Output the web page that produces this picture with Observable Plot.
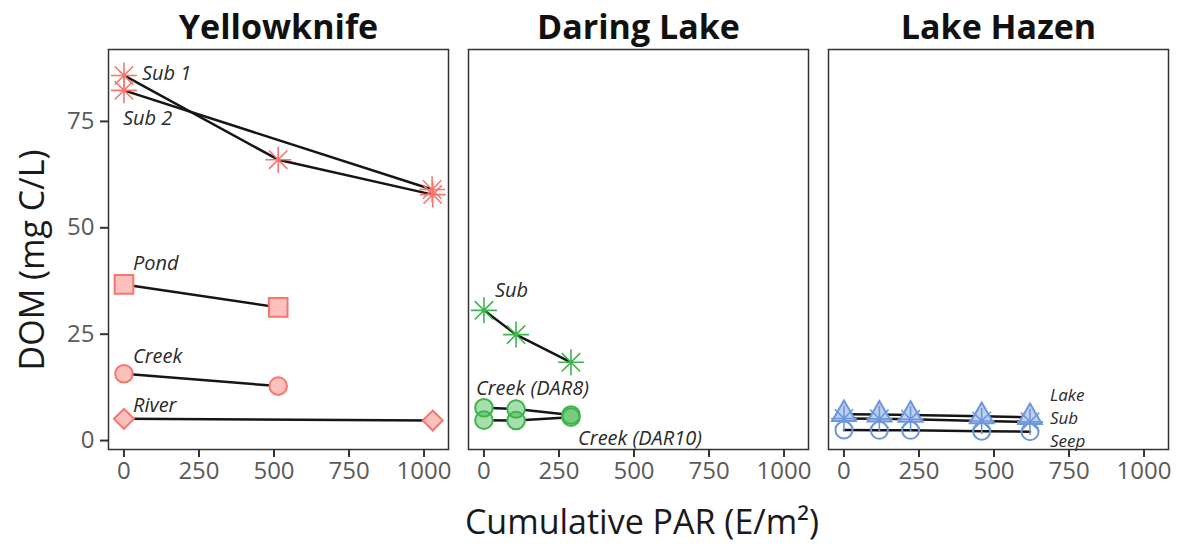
<!DOCTYPE html>
<html>
<head>
<meta charset="utf-8">
<script src="https://cdn.jsdelivr.net/npm/d3@7"></script>
<script src="https://cdn.jsdelivr.net/npm/@observablehq/plot@0.6"></script>
<style>
html, body { margin: 0; padding: 0; background: #fff; }
#chart { width: 1180px; height: 554px; }
g[aria-label$="tick"] { stroke-width: 2px; }
</style>
</head>
<body>
<div id="chart"></div>
<script>
// ---------- data ----------
const sites = ["Yellowknife", "Daring Lake", "Lake Hazen"];
const xTicks = [0, 250, 500, 750, 1000];
const yTicks = [0, 25, 50, 75];

const ykSub1PAR = [0, 514, 1029];
const ykSub1DOM = [85.8, 66.0, 57.8];
const ykSub2PAR = [0, 1027];
const ykSub2DOM = [82.3, 59.0];
const ykPondPAR = [0, 514];
const ykPondDOM = [36.7, 31.3];
const ykCreekPAR = [0, 514];
const ykCreekDOM = [15.7, 12.8];
const ykRiverPAR = [0, 1029];
const ykRiverDOM = [5.1, 4.7];

const dlSubPAR = [0, 107, 290];
const dlSubDOM = [30.6, 24.9, 18.4];
const dlDar8PAR = [0, 107, 290];
const dlDar8DOM = [7.7, 7.4, 6.0];
const dlDar10PAR = [0, 107, 290];
const dlDar10DOM = [4.8, 4.7, 5.5];

const lhPAR = [0, 118, 222, 459, 620];
const lhLakeDOM = [6.2, 6.1, 6.0, 5.7, 5.5];
const lhSubDOM = [5.2, 5.1, 5.0, 4.6, 4.4];
const lhSeepDOM = [2.5, 2.4, 2.4, 2.2, 2.1];

const series = [
  {site: "Yellowknife", name: "Sub 1", type: "sub", par: ykSub1PAR, dom: ykSub1DOM},
  {site: "Yellowknife", name: "Sub 2", type: "sub", par: ykSub2PAR, dom: ykSub2DOM},
  {site: "Yellowknife", name: "Pond", type: "pond", par: ykPondPAR, dom: ykPondDOM},
  {site: "Yellowknife", name: "Creek", type: "creek", par: ykCreekPAR, dom: ykCreekDOM},
  {site: "Yellowknife", name: "River", type: "river", par: ykRiverPAR, dom: ykRiverDOM},
  {site: "Daring Lake", name: "Sub", type: "sub", par: dlSubPAR, dom: dlSubDOM},
  {site: "Daring Lake", name: "Creek (DAR8)", type: "creek", par: dlDar8PAR, dom: dlDar8DOM},
  {site: "Daring Lake", name: "Creek (DAR10)", type: "creek", par: dlDar10PAR, dom: dlDar10DOM},
  {site: "Lake Hazen", name: "Lake", type: "lake", par: lhPAR, dom: lhLakeDOM},
  {site: "Lake Hazen", name: "Sub", type: "sub", par: lhPAR, dom: lhSubDOM},
  {site: "Lake Hazen", name: "Seep", type: "seep", par: lhPAR, dom: lhSeepDOM}
];

// ---------- styles ----------
const siteColor = {"Yellowknife": "#F8766D", "Daring Lake": "#3DB54A", "Lake Hazen": "#6E96DC"};

// label placement: which point of the series (0 = first, -1 = last) and pixel offsets
const labelStyle = {
  "Yellowknife|Sub 1": {at: 0, dx: 18, dy: -2},
  "Yellowknife|Sub 2": {at: 0, dx: -1, dy: 28},
  "Yellowknife|Pond": {at: 0, dx: 9, dy: -21},
  "Yellowknife|Creek": {at: 0, dx: 9, dy: -17},
  "Yellowknife|River": {at: 0, dx: 9, dy: -13},
  "Daring Lake|Sub": {at: 0, dx: 11, dy: -20},
  "Daring Lake|Creek (DAR8)": {at: 0, dx: -8, dy: -19},
  "Daring Lake|Creek (DAR10)": {at: -1, dx: 7, dy: 21},
  "Lake Hazen|Lake": {at: -1, dx: 20, dy: -22},
  "Lake Hazen|Sub": {at: -1, dx: 20, dy: -3},
  "Lake Hazen|Seep": {at: -1, dx: 20, dy: 10}
};

const asteriskSym = {
  draw(ctx, size) {
    const r = Math.sqrt(size / Math.PI), d = r * Math.SQRT1_2;
    ctx.moveTo(-r, 0); ctx.lineTo(r, 0);
    ctx.moveTo(0, -r); ctx.lineTo(0, r);
    ctx.moveTo(-d, -d); ctx.lineTo(d, d);
    ctx.moveTo(-d, d); ctx.lineTo(d, -d);
  }
};
const diamondSym = {
  draw(ctx, size) {
    const r = Math.sqrt(size / Math.PI);
    ctx.moveTo(0, -r); ctx.lineTo(r, 0); ctx.lineTo(0, r); ctx.lineTo(-r, 0); ctx.closePath();
  }
};
const shapeStyle = {
  pond: {symbol: "square", r: 10.5, filled: true},
  creek: {symbol: "circle", r: 8.8, filled: true},
  river: {symbol: diamondSym, r: 10, filled: true},
  lake: {symbol: "triangle", r: 8.8, filled: true},
  seep: {symbol: "circle", r: 8.5, filled: false},
  sub: {symbol: asteriskSym, r: 13, filled: false}
};

// ---------- build tables ----------
const points = series.flatMap(s => s.par.map((p, i) => ({site: s.site, name: s.name, type: s.type, PAR: p, DOM: s.dom[i]})));
const labels = series.map(s => {
  const st = labelStyle[s.site + "|" + s.name];
  const i = st.at < 0 ? s.par.length + st.at : st.at;
  return {site: s.site, name: s.name, PAR: s.par[i], DOM: s.dom[i], dx: st.dx, dy: st.dy};
});

const dotMarks = [];
for (const type of ["pond", "creek", "river", "seep", "lake", "sub"]) {
  const st = shapeStyle[type];
  const data = points.filter(d => d.type === type);
  if (st.filled) {
    dotMarks.push(Plot.dot(data, {x: "PAR", y: "DOM", fx: "site", symbol: st.symbol, r: st.r, fill: "white", stroke: "none"}));
    dotMarks.push(Plot.dot(data, {x: "PAR", y: "DOM", fx: "site", symbol: st.symbol, r: st.r,
      fill: d => siteColor[d.site], fillOpacity: 0.45, stroke: d => siteColor[d.site], strokeWidth: 2}));
  } else {
    dotMarks.push(Plot.dot(data, {x: "PAR", y: "DOM", fx: "site", symbol: st.symbol, r: st.r,
      fill: "none", stroke: d => siteColor[d.site], strokeWidth: type === "sub" ? 1.6 : 2}));
  }
}

const labelMarks = labels.map(l => Plot.text([l], {
  x: "PAR", y: "DOM", fx: "site", text: "name", dx: l.dx, dy: l.dy,
  textAnchor: "start", lineAnchor: "middle", fontSize: l.site === "Lake Hazen" ? 17 : 20,
  fontStyle: "italic", fill: "#2a2a2a"
}));

const chart = Plot.plot({
  width: 1180,
  height: 554,
  marginTop: 49,
  marginBottom: 105,
  marginLeft: 108,
  marginRight: 11,
  style: {fontFamily: "'Open Sans', sans-serif", fontSize: "24px", color: "#333", background: "white"},
  fx: {domain: sites, axis: null, paddingInner: 20 / 361, paddingOuter: 0},
  x: {domain: [-51.5, 1081.5], ticks: xTicks, tickFormat: d => String(d), tickSize: 8, tickPadding: 4, label: null},
  y: {domain: [-2.1, 91.9], ticks: yTicks, tickFormat: d => String(d), tickSize: 8, tickPadding: 6, label: null},
  marks: [
    Plot.frame({stroke: "#333", strokeWidth: 1.5}),
    Plot.line(points, {x: "PAR", y: "DOM", fx: "site", z: d => d.site + "|" + d.name, stroke: "#151515", strokeWidth: 2.5}),
    ...dotMarks,
    ...labelMarks,
    Plot.text(sites, {fx: d => d, text: d => d, frameAnchor: "top", dy: -11, lineAnchor: "bottom",
      fontSize: 34, fontWeight: "bold", fill: "#111"})
  ]
});

const svg = d3.select(chart);
svg.selectAll('[aria-label^="x-axis"] text, [aria-label^="y-axis"] text').attr("fill", "#5a5a5a");
svg.append("text")
  .attr("x", 642).attr("y", 522).attr("dy", "0.35em")
  .attr("text-anchor", "middle").attr("fill", "#1a1a1a")
  .style("font-size", "34px").style("font-family", "'Open Sans', sans-serif")
  .text("Cumulative PAR (E/m²)");
svg.append("text")
  .attr("transform", "translate(32,260) rotate(-90)").attr("dy", "0.35em")
  .attr("text-anchor", "middle").attr("fill", "#1a1a1a")
  .style("font-size", "34px").style("font-family", "'Open Sans', sans-serif")
  .text("DOM (mg C/L)");
document.getElementById("chart").appendChild(chart);
</script>
</body>
</html>
